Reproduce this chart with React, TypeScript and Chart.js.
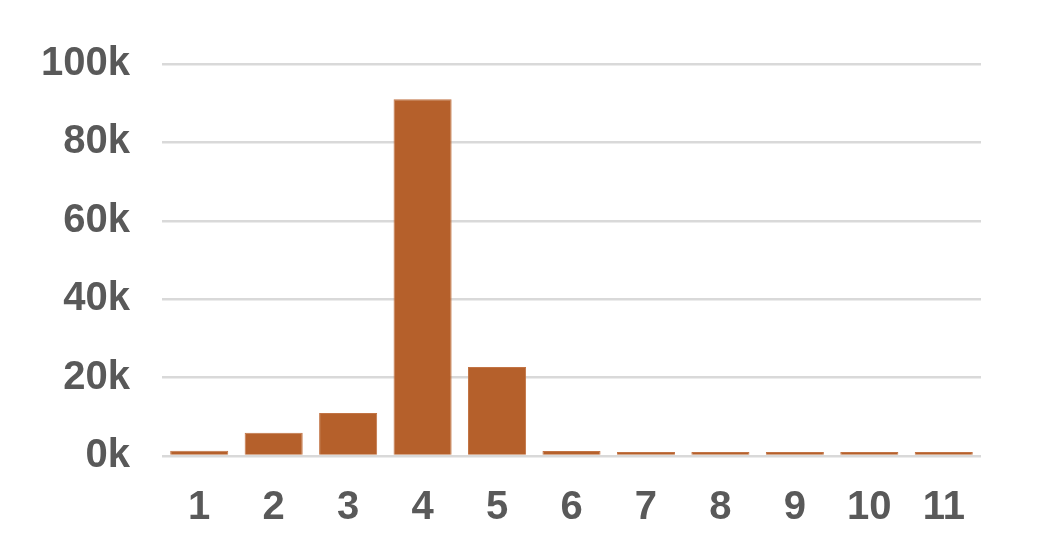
import React, { useEffect, useRef } from 'react';
import Chart from 'chart.js/auto';

const categories = ['1', '2', '3', '4', '5', '6', '7', '8', '9', '10', '11'];
const counts = [1350, 5900, 11000, 91000, 22700, 1300, 1000, 1000, 1000, 1000, 1000];
const yTicks = [0, 20000, 40000, 60000, 80000, 100000];

const App: React.FC = () => {
    const chartRef = useRef<HTMLCanvasElement | null>(null);

    useEffect(() => {
        const ctx = chartRef.current?.getContext('2d');
        if (!ctx) {
            return;
        }

        const font = { family: '"Liberation Sans", Arial, sans-serif', size: 40, weight: 'bold' as const };

        const myChart = new Chart(ctx, {
            type: 'bar',
            data: {
                labels: categories,
                datasets: [
                    {
                        data: counts,
                        backgroundColor: '#B5602B',
                        borderColor: '#C27445',
                        borderWidth: 1,
                        barPercentage: 0.78,
                        categoryPercentage: 1,
                    },
                ],
            },
            options: {
                animation: false,
                responsive: true,
                maintainAspectRatio: false,
                layout: {
                    padding: { top: 64, right: 67, bottom: 0, left: 0 },
                },
                plugins: {
                    legend: { display: false },
                    tooltip: { enabled: false },
                },
                scales: {
                    x: {
                        grid: { display: false },
                        border: { display: false },
                        ticks: { color: '#595959', font, padding: 20, maxRotation: 0 },
                        afterFit: (scale) => {
                            scale.height = 84;
                        },
                    },
                    y: {
                        min: 0,
                        max: 100000,
                        afterBuildTicks: (scale) => {
                            scale.ticks = yTicks.map((v) => ({ value: v }));
                        },
                        grid: { color: '#D9D9D9', lineWidth: 2.5, drawTicks: false },
                        border: { display: false },
                        ticks: {
                            color: '#595959',
                            font,
                            padding: 32,
                            callback: (v) => `${Number(v) / 1000}k`,
                        },
                        afterFit: (scale) => {
                            scale.width = 162;
                        },
                    },
                },
            },
        });

        return () => {
            myChart.destroy();
        };
    }, []);

    return (
        <div style={{ position: 'absolute', left: 0, top: 0, width: 1048, height: 540, background: '#fff' }}>
            <canvas ref={chartRef} />
        </div>
    );
};

export default App;
